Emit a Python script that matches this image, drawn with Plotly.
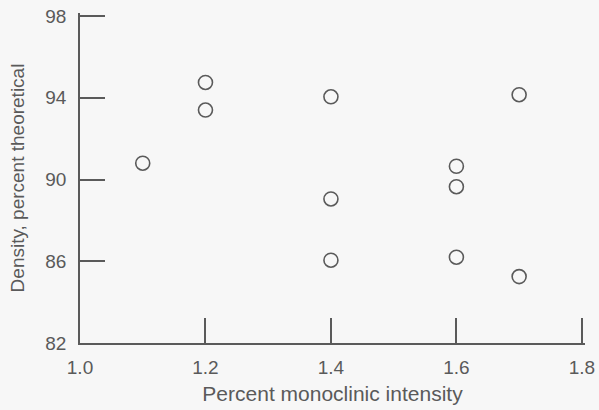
import plotly.graph_objects as go

x_vals = [1.1, 1.2, 1.2, 1.4, 1.4, 1.4, 1.6, 1.6, 1.6, 1.7, 1.7]
y_vals = [90.8, 94.75, 93.4, 94.05, 89.05, 86.05, 90.65, 89.65, 86.2, 94.15, 85.25]
x_ticks = [1.0, 1.2, 1.4, 1.6, 1.8]
y_ticks = [82, 86, 90, 94, 98]

ink = "#5a5a5a"
fig = go.Figure(go.Scatter(
    x=x_vals, y=y_vals, mode="markers",
    marker=dict(symbol="circle-open", size=14, color=ink, line=dict(width=1.6, color=ink)),
    showlegend=False, cliponaxis=False,
))

fig.update_layout(
    width=599, height=410,
    margin=dict(l=80, r=14, t=13, b=67),
    paper_bgcolor="#f7f7f7", plot_bgcolor="#f7f7f7",
    font=dict(family="Liberation Sans, Arial, sans-serif", size=19, color=ink),
)
fig.update_xaxes(
    range=[1.0, 1.805], tickvals=x_ticks, ticktext=[f"{v:.1f}" for v in x_ticks],
    showline=True, linecolor=ink, linewidth=1.5, showgrid=False, zeroline=False,
    ticks="inside", ticklen=25, tickwidth=1.5, tickcolor=ink, ticklabelstandoff=6,
    automargin=False,
    title=dict(text="Percent monoclinic intensity", standoff=10, font=dict(size=21)),
)
fig.update_yaxes(
    range=[82, 98.15], tickvals=y_ticks, ticktext=[str(v) for v in y_ticks],
    showline=True, linecolor=ink, linewidth=1.5, showgrid=False, zeroline=False,
    ticks="inside", ticklen=25, tickwidth=1.5, tickcolor=ink, ticklabelstandoff=8,
    automargin=False,
    title=dict(text="Density, percent theoretical", standoff=16, font=dict(size=19)),
)
fig.write_html("out.html")
